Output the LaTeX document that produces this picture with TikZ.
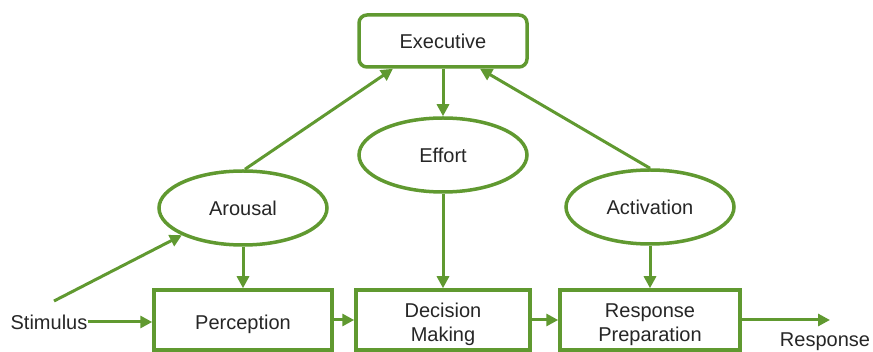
\documentclass[tikz,border=0pt]{standalone}
\usepackage{fontspec}
\setmainfont{Liberation Sans}
\usetikzlibrary{arrows.meta,shapes.geometric,calc}
\definecolor{grn}{RGB}{96,153,48}
\newcommand{\twoline}[2]{\raisebox{-10pt}[0pt][0pt]{\begin{tabular}{@{}c@{}}#1\\#2\end{tabular}}}
\begin{document}
\begin{tikzpicture}[x=1pt,y=-1pt,
  box/.style={draw=grn,line width=3.5pt,fill=white,minimum width=176pt,minimum height=60pt,inner sep=0pt,align=center,font=\fontsize{20}{24}\selectfont,text=black!85},
  ell/.style={ellipse,draw=grn,line width=3.5pt,fill=white,minimum width=168pt,minimum height=74pt,inner sep=0pt,font=\fontsize{20}{25}\selectfont,text=black!85},
  arr/.style={draw=grn,line width=3pt,-{Triangle[length=12pt,width=12pt]}},
  lbl/.style={inner sep=0pt,font=\fontsize{20}{25}\selectfont,text=black!85}]
\useasboundingbox (0,0) rectangle (873,352);
\node[box,rounded corners=8pt,minimum width=168pt,minimum height=52pt] (ex) at (443,41) {Executive};
\node[ell] (ef) at (443,155) {Effort};
\node[ell] (ar) at (243,208) {Arousal};
\node[ell] (ac) at (650,207) {Activation};
\node[box,minimum width=178pt] (pe) at (243,320) {\raisebox{-10pt}[0pt][0pt]{Perception}};
\node[box,minimum width=174pt] (dm) at (443,320) {\twoline{Decision}{Making}};
\node[box,minimum width=180pt] (rp) at (650,320) {\twoline{Response}{Preparation}};
\node[lbl] (st) at (49,322) {Stimulus};
\node[lbl] (rs) at (825,342) {Response};
\coordinate (st0) at (54,301);
\coordinate (rend) at (830,320);
\draw[arr] (st0) -- (ar.204);
\draw[arr] (st.east) -- (st.east -| pe.west);
\draw[arr] (pe.east) -- (dm.west);
\draw[arr] (dm.east) -- (rp.west);
\draw[arr] (rp.east) -- (rend);
\draw[arr] (ar.south) -- (pe.north);
\draw[arr] (ef.south) -- (dm.north);
\draw[arr] (ac.south) -- (rp.north);
\draw[arr] (ex.south) -- (ef.north);
\draw[arr] ($(ar.north)+(2,0)$) -- ($(ex.south)+(-50,0)$);
\draw[arr] (ac.north) -- ($(ex.south)+(37,0)$);
\end{tikzpicture}
\end{document}
